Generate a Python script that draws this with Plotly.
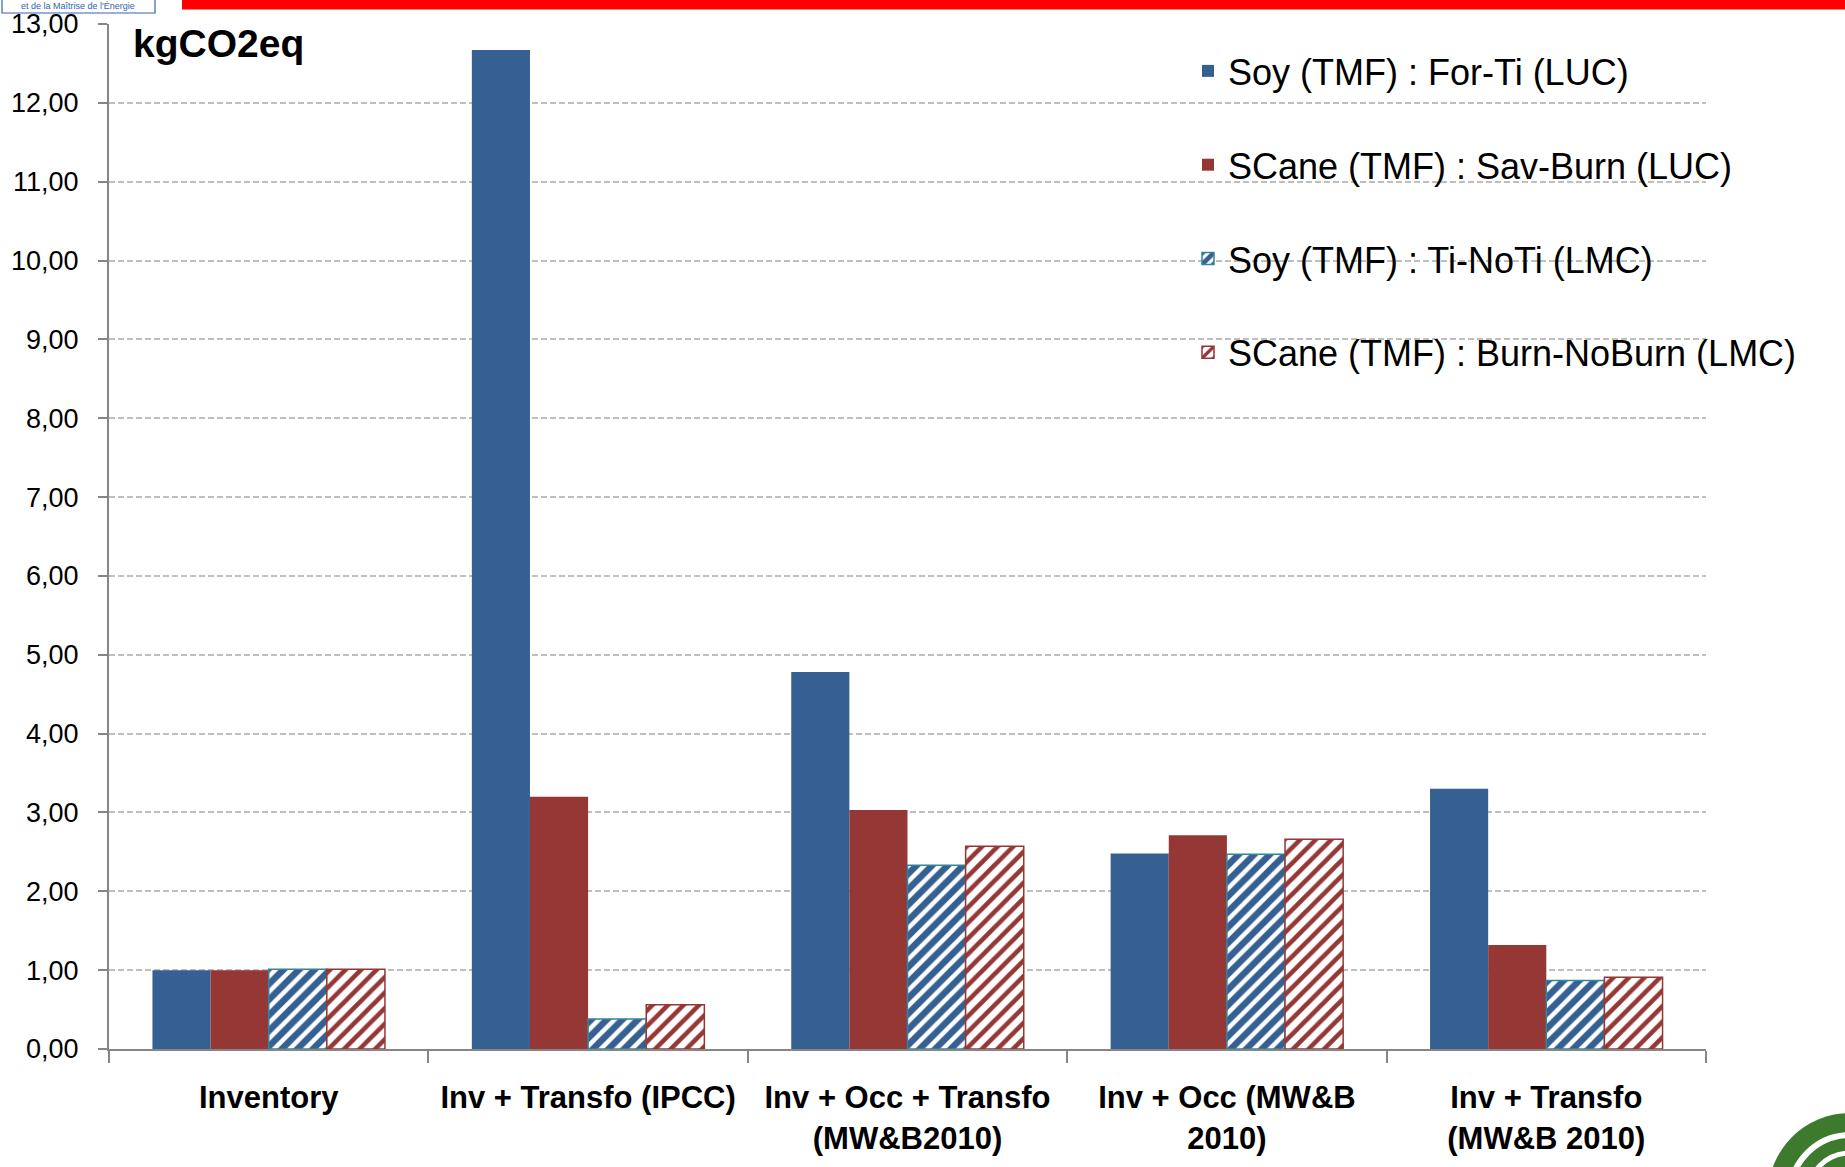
import plotly.graph_objects as go

# ---- data ----
categories = [
    "Inventory",
    "Inv + Transfo (IPCC)",
    "Inv + Occ + Transfo<br>(MW&B2010)",
    "Inv + Occ (MW&B<br>2010)",
    "Inv + Transfo<br>(MW&B 2010)",
]
series_names = [
    "Soy (TMF) : For-Ti (LUC)",
    "SCane (TMF) : Sav-Burn (LUC)",
    "Soy (TMF) : Ti-NoTi (LMC)",
    "SCane (TMF) : Burn-NoBurn (LMC)",
]
soy_forti = [1.00, 12.67, 4.78, 2.48, 3.30]
scane_savburn = [1.00, 3.20, 3.03, 2.71, 1.32]
soy_tinoti = [1.01, 0.38, 2.33, 2.47, 0.87]
scane_burnnoburn = [1.01, 0.56, 2.57, 2.66, 0.91]
y_ticks = list(range(0, 14))

BLUE = "#376092"
RED = "#953735"
TEAL = "#31859C"

W, H = 1845, 1167
L, R, T, B = 109, 139, 24, 118
PW, PH = W - L - R, H - T - B


def px2x(px):
    return (px - L) / PW


def py2y(py):
    return (H - B - py) / PH


FONT = "Liberation Sans, Arial, sans-serif"

fig = go.Figure()
fig.add_trace(go.Bar(x=categories, y=soy_forti, name=series_names[0],
                     legendgroup="a", marker=dict(color=BLUE, line=dict(width=0))))
fig.add_trace(go.Bar(x=categories, y=scane_savburn, name=series_names[1],
                     legendgroup="b", marker=dict(color=RED, line=dict(width=0))))
fig.add_trace(go.Bar(x=categories, y=soy_tinoti, name=series_names[2],
                     legendgroup="c",
                     marker=dict(color="white", line=dict(color=TEAL, width=1.5),
                                 pattern=dict(shape="/", fgcolor=BLUE, bgcolor="white",
                                              fgopacity=1, fillmode="replace",
                                              size=11, solidity=0.6))))
fig.add_trace(go.Bar(x=categories, y=scane_burnnoburn, name=series_names[3],
                     legendgroup="d",
                     marker=dict(color="white", line=dict(color=RED, width=1.5),
                                 pattern=dict(shape="/", fgcolor=RED, bgcolor="white",
                                              fgopacity=1, fillmode="replace",
                                              size=11, solidity=0.42))))

shapes = [
    # red banner at top
    dict(type="rect", xref="paper", yref="paper", x0=px2x(182), x1=px2x(W + 5),
         y0=py2y(9.5), y1=py2y(-5), fillcolor="#FF0000", line=dict(width=0), layer="above"),
    # logo box top-left
    dict(type="rect", xref="paper", yref="paper", x0=px2x(2), x1=px2x(155),
         y0=py2y(13), y1=py2y(-5), fillcolor="white", line=dict(color="#3465b0", width=1.2),
         layer="above"),
    # green logo bottom-right
    dict(type="circle", xref="paper", yref="paper", x0=px2x(1768), x1=px2x(1932),
         y0=py2y(1277), y1=py2y(1113), fillcolor="#3d7a2e", line=dict(width=0), layer="above"),
    dict(type="circle", xref="paper", yref="paper", x0=px2x(1790), x1=px2x(1910),
         y0=py2y(1255), y1=py2y(1135), fillcolor="rgba(0,0,0,0)",
         line=dict(color="white", width=6), layer="above"),
    dict(type="circle", xref="paper", yref="paper", x0=px2x(1808), x1=px2x(1892),
         y0=py2y(1237), y1=py2y(1153), fillcolor="rgba(0,0,0,0)",
         line=dict(color="white", width=5), layer="above"),
]

annotations = [
    dict(text="<b>kgCO2eq</b>", xref="paper", yref="paper", x=px2x(131), y=py2y(43),
         xanchor="left", yanchor="middle", showarrow=False,
         font=dict(family=FONT, size=39, color="black")),
    dict(text="et de la Maîtrise de l'Énergie", xref="paper", yref="paper",
         x=px2x(78), y=py2y(6), xanchor="center", yanchor="middle", showarrow=False,
         font=dict(family=FONT, size=9, color="#3465b0")),
]

fig.update_layout(
    width=W, height=H,
    margin=dict(l=L, r=R, t=T, b=B, pad=0),
    plot_bgcolor="white", paper_bgcolor="white",
    barmode="group", bargap=0.272, bargroupgap=0,
    separators=", ",
    font=dict(family=FONT, color="black"),
    legend=dict(x=px2x(1188), y=py2y(41), xanchor="left", yanchor="top",
                bgcolor="rgba(0,0,0,0)", font=dict(family=FONT, size=36, color="black"),
                traceorder="grouped", tracegroupgap=44),
    shapes=shapes,
    annotations=annotations,
    xaxis=dict(
        automargin=False,
        showline=True, linecolor="#868686", linewidth=2,
        ticks="outside", tickson="boundaries", ticklen=12, tickcolor="#868686", tickwidth=2,
        tickfont=dict(family=FONT, size=31, color="black", weight="bold"),
        ticklabelstandoff=20,
        showgrid=False,
    ),
    yaxis=dict(
        automargin=False,
        range=[0, 13.0], tickvals=y_ticks, tickformat=".2f",
        showline=True, linecolor="#868686", linewidth=2,
        ticks="outside", ticklen=9, tickcolor="#868686", tickwidth=2,
        tickfont=dict(family=FONT, size=27, color="black"),
        ticklabelstandoff=14,
        showgrid=True, gridcolor="#BFBFBF", gridwidth=1.5, griddash="6px,3px",
        zeroline=False,
    ),
)

fig.write_html("out.html", config={"displayModeBar": False},
               post_script="document.body.style.margin='0';")
